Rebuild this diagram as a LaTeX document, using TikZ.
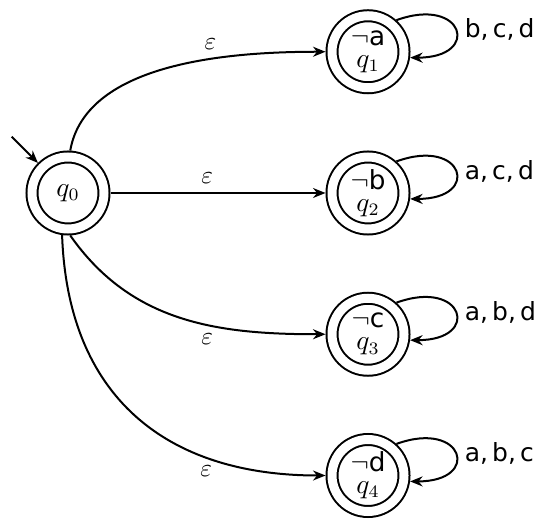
\documentclass[tikz,border=0pt]{standalone}
\usepackage{fontspec}
\setsansfont{DejaVu Sans}
\usetikzlibrary{arrows.meta, positioning}

\begin{document}
\begin{tikzpicture}[
      x=0.4pt, y=0.4pt,
      node distance=22.5pt,
      qstate/.style={circle, draw, line width=0.8pt, double, double distance=3.6pt,
                     outer sep=2.6pt, inner sep=0pt, minimum size=28.8pt,
                     align=center, font=\sffamily\fontsize{10.5}{12}\selectfont},
      arr/.style={-{Stealth[length=5pt, width=4pt]}, line width=0.8pt},
      syms/.style={right, font=\sffamily\fontsize{10}{12}\selectfont}
    ]
    \useasboundingbox (0,0) rectangle (547,520);
    \node[qstate] (q0) at (68,327) {$q_0$};
    \node[qstate, right=86pt of q0] (q2) {$\neg$b\\[-3.2pt]$q_2$};
    \node[qstate, above=of q2] (q1) {$\neg$a\\[-3.2pt]$q_1$};
    \node[qstate, below=of q2] (q3) {$\neg$c\\[-3.2pt]$q_3$};
    \node[qstate, below=of q3] (q4) {$\neg$d\\[-3.2pt]$q_4$};
    \coordinate[above left=10.5pt and 10.5pt of q0.135] (init);
    \draw[arr] (init) -- (q0);
    % epsilon moves
    \draw[arr] (q0.87) to[out=80, in=180, looseness=0.85] node[above, pos=0.63] {$\varepsilon$} (q1);
    \draw[arr] (q0) -- node[above, pos=0.45] {$\varepsilon$} (q2);
    \draw[arr] (q0.-87) to[out=-55, in=180] node[below, pos=0.6] {$\varepsilon$} (q3);
    \draw[arr] (q0.-98) to[out=-88, in=180, looseness=1.15] node[below, pos=0.72] {$\varepsilon$} (q4);
    % self loops
    \draw[arr] (q1.48) to[out=20, in=0, looseness=4.6] node[syms] {b,\,c,\,d} (q1.-8);
    \draw[arr] (q2.48) to[out=20, in=0, looseness=4.6] node[syms] {a,\,c,\,d} (q2.-8);
    \draw[arr] (q3.48) to[out=20, in=0, looseness=4.6] node[syms] {a,\,b,\,d} (q3.-8);
    \draw[arr] (q4.48) to[out=20, in=0, looseness=4.6] node[syms] {a,\,b,\,c} (q4.-8);
  \end{tikzpicture}
\end{document}
